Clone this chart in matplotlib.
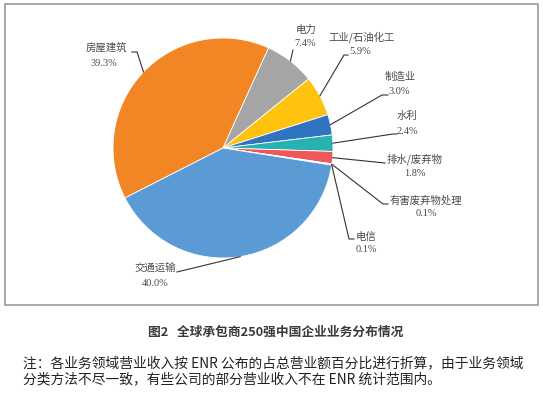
import numpy as np
import matplotlib
matplotlib.use("Agg")
from matplotlib import pyplot as plt
from matplotlib.patches import Rectangle

plt.rcParams['font.family'] = ['Noto Sans CJK SC', 'DejaVu Sans']

sectors = ["房屋建筑", "电力", "工业/石油化工", "制造业", "水利",
           "排水/废弃物", "有害废弃物处理", "电信", "交通运输"]
shares = [39.3, 7.4, 5.9, 3.0, 2.4, 1.8, 0.1, 0.1, 40.0]
colors = ["#F28524", "#A5A5A5", "#FFC20E", "#2F74C0", "#27B1B0",
          "#EF5858", "#F4A6A6", "#8DB8E0", "#5B9BD5"]

title = "图2   全球承包商250强中国企业业务分布情况"
note = ["注：各业务领域营业收入按 ENR 公布的占总营业额百分比进行折算，由于业务领域",
        "分类方法不尽一致，有些公司的部分营业收入不在 ENR 统计范围内。"]

W, H = 543, 393
# label layout in pixel coords (y from top): name centre, pct centre, leader elbows
label_pos = [
    ((106, 48), (104, 63), [(137, 52), (132, 52)]),
    ((306, 30), (305, 44), [(293, 50)]),
    ((362, 37), (360, 52), [(344, 55), (348, 55)]),
    ((400, 77), (399, 91), [(382, 95), (388, 95)]),
    ((407, 116), (407, 131), [(393, 134), (397, 134)]),
    ((415, 159), (415, 173), [(385, 163)]),
    ((426, 200), (426, 214), [(383, 204), (388, 204)]),
    ((366, 237), (366, 250), [(349, 239), (354, 239)]),
    ((155, 268), (155, 283), [(177, 272)]),
]

fig = plt.figure(figsize=(W / 100, H / 100), dpi=100)
ax = fig.add_axes([0, 0, 1, 1])

cx, cy, r = 223, H - 148, 110
wedges, _ = ax.pie(shares, colors=colors, startangle=207, counterclock=False,
                   center=(cx, cy), radius=r,
                   wedgeprops=dict(edgecolor="white", linewidth=0.6))

ax.set_xlim(0, W)
ax.set_ylim(0, H)
ax.set_aspect("equal")
ax.axis("off")

# frame around chart area
ax.add_patch(Rectangle((5, H - 305), 533, 301, fill=False,
                       edgecolor="#9a9a9a", linewidth=1.2))

for w, name, pct, (npos, ppos, elbows) in zip(wedges, sectors, shares, label_pos):
    mid = np.deg2rad((w.theta1 + w.theta2) / 2)
    ax_pt = (cx + r * np.cos(mid), cy + r * np.sin(mid))
    xs = [ax_pt[0]] + [e[0] for e in elbows]
    ys = [ax_pt[1]] + [H - e[1] for e in elbows]
    ax.plot(xs, ys, color="#333333", linewidth=0.8)
    ax.text(npos[0], H - npos[1], name, ha="center", va="center",
            fontsize=7.5, color="#4a4a4a")
    ax.text(ppos[0], H - ppos[1], f"{pct:.1f}%", ha="center", va="center",
            fontsize=7.5, color="#4a4a4a", family="Liberation Serif")

ax.text(276, H - 332, title, ha="center", va="center", fontsize=9.2,
        fontweight="bold", color="#3a3a3a")
ax.text(23, H - 363, note[0], ha="left", va="center", fontsize=9.9,
        color="#222222")
ax.text(23, H - 379, note[1], ha="left", va="center", fontsize=9.9,
        color="#222222")

fig.savefig("out.png", dpi=100)
